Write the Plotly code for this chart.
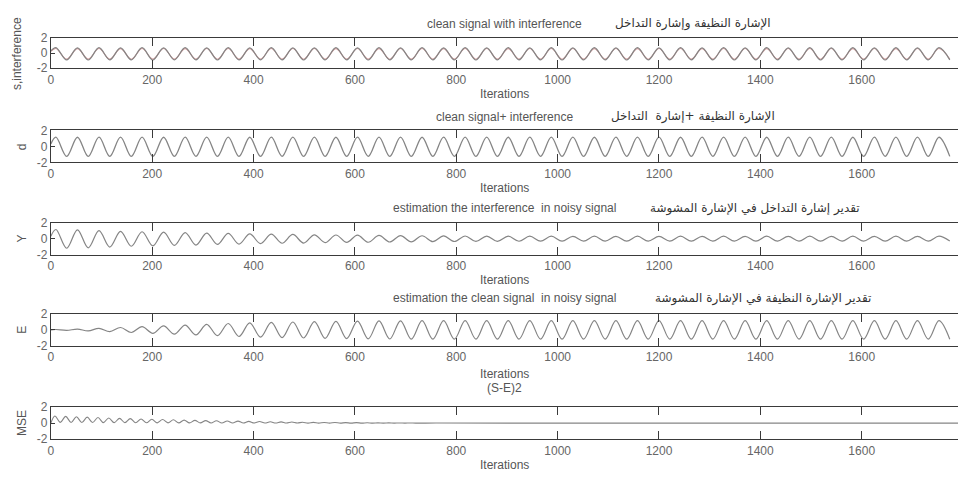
import numpy as np
import plotly.graph_objects as go

W, H = 959, 486

# sample positions (iterations) at the extrema of the oscillations
ITER = [0.0] + list(np.arange(10, 1790, 21.25))          # 85 points
ITER_MSE = [0.0] + list(np.arange(8, 720, 10.625)) + [760, 1000, 1300, 1600, 1790]

S_CLEAN = [0.30,
    0.74,-0.90,0.71,-0.91,0.72,-0.89,0.70,-0.90,0.72,-0.91,0.71,-0.89,
    0.72,-0.90,0.70,-0.91,0.72,-0.90,0.71,-0.89,0.72,-0.90,0.70,-0.91,
    0.71,-0.90,0.72,-0.89,0.70,-0.91,0.72,-0.90,0.71,-0.90,0.72,-0.89,
    0.70,-0.90,0.72,-0.91,0.71,-0.90,0.72,-0.89,0.70,-0.90,0.72,-0.91,
    0.71,-0.90,0.72,-0.89,0.70,-0.91,0.72,-0.90,0.71,-0.90,0.72,-0.89,
    0.70,-0.90,0.72,-0.91,0.71,-0.90,0.72,-0.89,0.70,-0.90,0.72,-0.91,
    0.71,-0.90,0.72,-0.89,0.70,-0.91,0.72,-0.90,0.71,-0.90,0.72,-0.89]

INTERF = [0.25,
    0.62,-0.80,0.60,-0.79,0.61,-0.80,0.60,-0.81,0.62,-0.80,0.61,-0.79,
    0.60,-0.80,0.62,-0.81,0.61,-0.80,0.60,-0.79,0.62,-0.80,0.61,-0.81,
    0.62,-0.80,0.60,-0.79,0.61,-0.80,0.60,-0.81,0.62,-0.80,0.61,-0.79,
    0.60,-0.80,0.62,-0.81,0.61,-0.80,0.60,-0.79,0.62,-0.80,0.61,-0.81,
    0.62,-0.80,0.60,-0.79,0.61,-0.80,0.60,-0.81,0.62,-0.80,0.61,-0.79,
    0.60,-0.80,0.62,-0.81,0.61,-0.80,0.60,-0.79,0.62,-0.80,0.61,-0.81,
    0.62,-0.80,0.60,-0.79,0.61,-0.80,0.60,-0.81,0.62,-0.80,0.61,-0.79]

D = [0.30,
    1.15,-1.25,1.14,-1.26,1.15,-1.24,1.16,-1.25,1.15,-1.26,1.14,-1.25,
    1.15,-1.24,1.16,-1.25,1.15,-1.26,1.14,-1.25,1.15,-1.24,1.16,-1.25,
    1.15,-1.26,1.14,-1.25,1.15,-1.24,1.16,-1.25,1.15,-1.26,1.14,-1.25,
    1.15,-1.24,1.16,-1.25,1.15,-1.26,1.14,-1.25,1.15,-1.24,1.16,-1.25,
    1.15,-1.26,1.14,-1.25,1.15,-1.24,1.16,-1.25,1.15,-1.26,1.14,-1.25,
    1.15,-1.24,1.16,-1.25,1.15,-1.26,1.14,-1.25,1.15,-1.24,1.16,-1.25,
    1.15,-1.26,1.14,-1.25,1.15,-1.24,1.16,-1.25,1.15,-1.26,1.14,-1.25]

Y_EST = [0.30,
    1.14,-1.20,1.09,-1.15,1.00,-1.05,0.90,-0.95,0.86,-0.90,0.81,-0.85,
    0.76,-0.80,0.68,-0.72,0.65,-0.68,0.59,-0.62,0.55,-0.58,0.52,-0.55,
    0.48,-0.50,0.45,-0.47,0.43,-0.45,0.40,-0.42,0.38,-0.40,0.36,-0.38,
    0.34,-0.36,0.33,-0.35,0.32,-0.34,0.31,-0.33,0.30,-0.32,0.30,-0.31,
    0.29,-0.30,0.30,-0.30,0.29,-0.31,0.30,-0.30,0.29,-0.30,0.30,-0.31,
    0.29,-0.30,0.30,-0.30,0.29,-0.31,0.30,-0.30,0.29,-0.30,0.30,-0.31,
    0.29,-0.30,0.30,-0.30,0.29,-0.31,0.30,-0.30,0.29,-0.30,0.30,-0.31]

E_EST = [0.00,
    0.05,-0.06,0.10,-0.12,0.20,-0.22,0.30,-0.32,0.40,-0.42,0.50,-0.52,
    0.60,-0.62,0.70,-0.72,0.80,-0.82,0.88,-0.90,0.94,-0.96,0.99,-1.01,
    1.03,-1.05,1.07,-1.08,1.10,-1.11,1.12,-1.13,1.14,-1.15,1.15,-1.16,
    1.15,-1.15,1.16,-1.15,1.15,-1.16,1.15,-1.15,1.16,-1.15,1.15,-1.16,
    1.15,-1.15,1.16,-1.15,1.15,-1.16,1.15,-1.15,1.16,-1.15,1.15,-1.16,
    1.15,-1.15,1.16,-1.15,1.15,-1.16,1.15,-1.15,1.16,-1.15,1.15,-1.16,
    1.15,-1.15,1.16,-1.15,1.15,-1.16,1.15,-1.15,1.16,-1.15,1.15,-1.16]

MSE = [0.00,
    0.90,0.10,0.85,0.09,0.80,0.08,0.75,0.08,0.70,0.07,0.65,0.06,
    0.60,0.06,0.56,0.05,0.52,0.05,0.48,0.04,0.45,0.04,0.42,0.03,
    0.38,0.03,0.35,0.03,0.32,0.02,0.30,0.02,0.27,0.02,0.25,0.02,
    0.22,0.01,0.20,0.01,0.18,0.01,0.16,0.01,0.14,0.01,0.12,0.00,
    0.10,0.00,0.09,0.00,0.08,0.00,0.07,0.00,0.06,0.00,0.05,0.00,
    0.04,0.00,0.03,0.00,0.02,0.00,0.02,0.00,
    0.01,0.00,0.00,0.00,0.00]

X_TICKS = [0, 200, 400, 600, 800, 1000, 1200, 1400, 1600]
Y_TICKS = [-2, 0, 2]
Y_TICKTEXT = ["-2", "0", "2"]

Y_LABELS = ["s,interference", "d", "Y", "E", "MSE"]
TITLES_EN = ["clean signal with interference", "clean signal+ interference",
             "estimation the interference  in noisy signal",
             "estimation the clean signal  in noisy signal", "(S-E)2"]
TITLES_AR = ["الإشارة النظيفة وإشارة التداخل", "الإشارة النظيفة +إشارة  التداخل",
             "تقدير إشارة التداخل في الإشارة المشوشة",
             "تقدير الإشارة النظيفة في الإشارة المشوشة", ""]
X_LABEL = "Iterations"

assert len(S_CLEAN) == len(ITER) == len(INTERF) == len(D) == len(Y_EST) == len(E_EST)
assert len(MSE) == len(ITER_MSE), (len(MSE), len(ITER_MSE))

# ---- layout geometry (pixels) ----
PANELS = [(32, 63), (127, 160), (222, 255), (316, 349), (412, 445)]
X_LEFT, X_RIGHT = 48, 958
TITLE_Y = [17, 113, 207, 300, 392]
XLAB_Y = [90, 186, 281, 378, 472]
AR_X = [692, 692, 754, 762, None]

FONT = "Liberation Sans, Arial, DejaVu Sans, sans-serif"
GRAY = "#858585"
AXC = "#3a3a3a"

fig = go.Figure()

series = [
    [(ITER, INTERF, "#d49a9a", 1.1), (ITER, S_CLEAN, GRAY, 1.2)],
    [(ITER, D, GRAY, 1.3)],
    [(ITER, Y_EST, GRAY, 1.2)],
    [(ITER, E_EST, GRAY, 1.2)],
    [(ITER_MSE, MSE, GRAY, 1.1)],
]

layout = dict(width=W, height=H, margin=dict(l=0, r=0, t=0, b=0),
              paper_bgcolor="white", plot_bgcolor="white", showlegend=False,
              font=dict(family=FONT, size=12, color="#555"))
annotations = []

for i, (top, bot) in enumerate(PANELS):
    n = i + 1
    xa = "x" if n == 1 else f"x{n}"
    ya = "y" if n == 1 else f"y{n}"
    for xs, ys, col, lw in series[i]:
        fig.add_trace(go.Scatter(x=xs, y=ys, mode="lines", xaxis=xa, yaxis=ya,
                                 line=dict(color=col, width=lw, shape="spline", smoothing=1.0),
                                 hoverinfo="skip"))
    layout[f"xaxis{'' if n == 1 else n}"] = dict(
        domain=[X_LEFT / W, X_RIGHT / W], range=[0, 1790], anchor=ya,
        tickmode="array", tickvals=X_TICKS, ticks="inside", ticklen=8, tickcolor=AXC,
        showline=True, linecolor=AXC, linewidth=1, mirror="ticks",
        showgrid=False, zeroline=False, tickfont=dict(size=12, color="#666"))
    layout[f"yaxis{'' if n == 1 else n}"] = dict(
        domain=[1 - bot / H, 1 - top / H], range=[-2, 2], anchor=xa,
        tickmode="array", tickvals=Y_TICKS, ticktext=Y_TICKTEXT, ticks="inside",
        ticklen=4, tickcolor=AXC, showline=True, linecolor=AXC, linewidth=1,
        showgrid=False, zeroline=False, tickfont=dict(size=12, color="#666"))
    cy = (top + bot) / 2
    annotations.append(dict(text=Y_LABELS[i], x=14 / W if i == 0 else 19 / W, y=1 - cy / H,
                            xref="paper", yref="paper", textangle=-90, showarrow=False,
                            font=dict(size=12, color="#555"), xanchor="center", yanchor="middle"))
    annotations.append(dict(text=TITLES_EN[i], x=503 / W, y=1 - TITLE_Y[i] / H,
                            xref="paper", yref="paper", showarrow=False,
                            font=dict(size=12, color="#555"), xanchor="center", yanchor="middle"))
    if TITLES_AR[i]:
        annotations.append(dict(text=TITLES_AR[i], x=AR_X[i] / W, y=1 - TITLE_Y[i] / H,
                                xref="paper", yref="paper", showarrow=False,
                                font=dict(size=12, color="#333", family="DejaVu Sans"),
                                xanchor="center", yanchor="middle"))
    annotations.append(dict(text=X_LABEL, x=503 / W, y=1 - XLAB_Y[i] / H,
                            xref="paper", yref="paper", showarrow=False,
                            font=dict(size=12, color="#555"), xanchor="center", yanchor="middle"))

layout["annotations"] = annotations
fig.update_layout(**layout)
fig.write_html("out.html")
